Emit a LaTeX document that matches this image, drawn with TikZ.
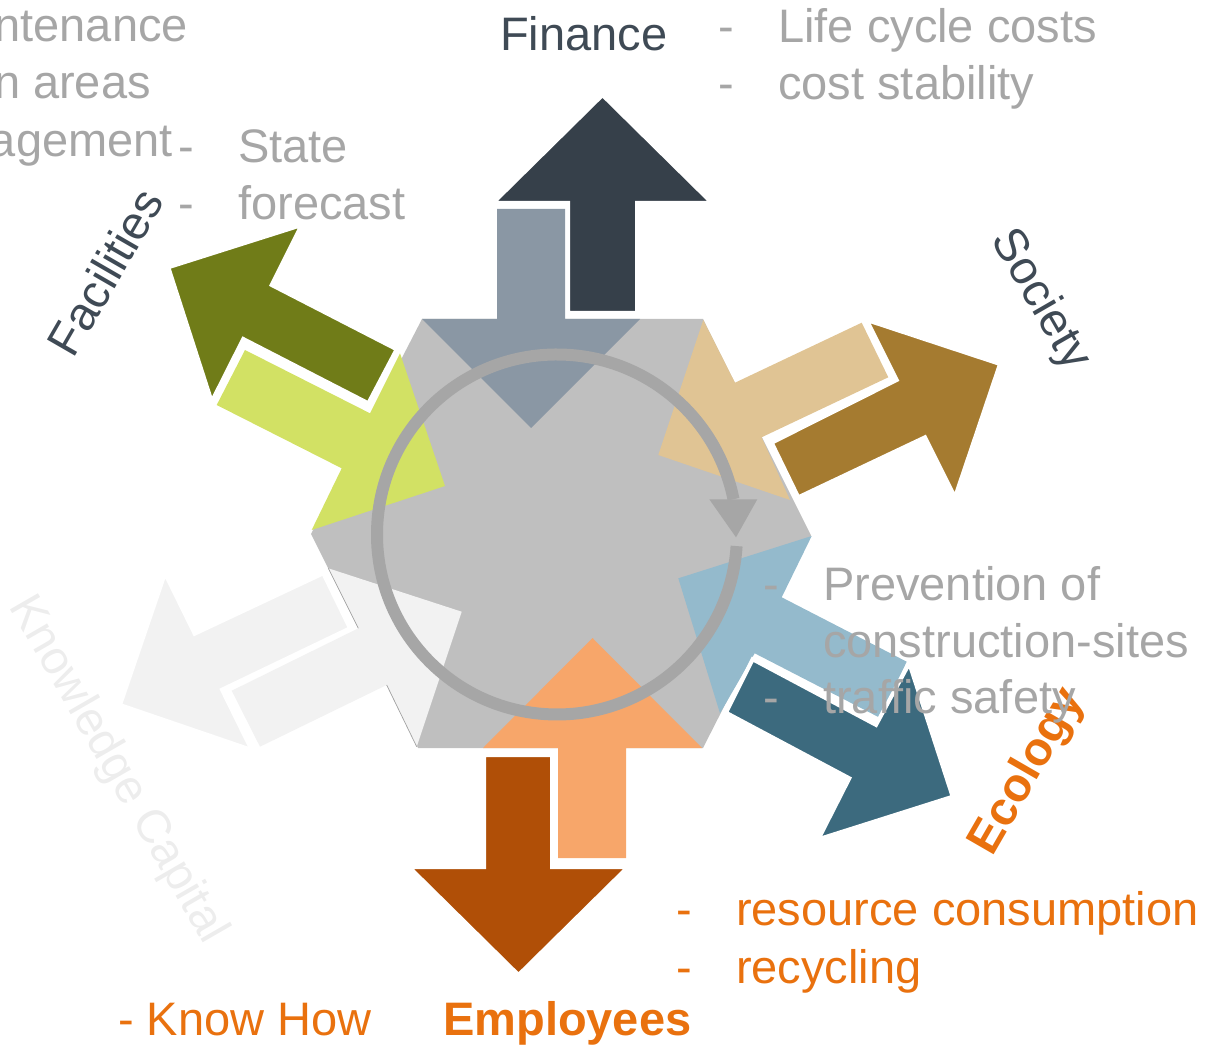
\documentclass[tikz,border=0pt]{standalone}
\usepackage{fontspec}
\setmainfont{Liberation Sans}

\definecolor{hexgray}{HTML}{BFBFBF}
\definecolor{cyclegray}{HTML}{A6A6A6}
\definecolor{findark}{HTML}{36404A}
\definecolor{finlight}{HTML}{8A97A4}
\definecolor{socdark}{HTML}{A57B30}
\definecolor{soclight}{HTML}{E0C494}
\definecolor{ecodark}{HTML}{3C6A7E}
\definecolor{ecolight}{HTML}{94BACC}
\definecolor{empdark}{HTML}{B04F07}
\definecolor{emplight}{HTML}{F7A66A}
\definecolor{knowgray}{HTML}{F2F2F2}
\definecolor{facdark}{HTML}{707C18}
\definecolor{faclight}{HTML}{D2E164}
\definecolor{labeldark}{HTML}{3F4A55}
\definecolor{listgray}{HTML}{A6A6A6}
\definecolor{accentorange}{HTML}{E9710E}
\definecolor{kncapgray}{HTML}{EDEDED}

\newcommand{\listdash}{\makebox[60pt][l]{-}}

\tikzset{
	lbl/.style={inner sep=0pt, font=\fontsize{47}{56}\selectfont},
	darklbl/.style={lbl, text=labeldark},
	graylbl/.style={lbl, text=listgray},
	orangelbl/.style={lbl, text=accentorange},
	outarrow/.style={draw=white, line width=4pt, line join=miter}
}

\begin{document}
\begin{tikzpicture}[x=1pt,y=-1pt]
	\useasboundingbox (0,0) rectangle (1211,1048);
	
	% Hexagon in the middle
	\fill[hexgray] (422,319) -- (703,319) -- (811,535.5) -- (703,748) -- (418,748) -- (311,534) -- cycle;
	
	% Inward arrows
	\fill[finlight] (497,209) -- (497,319) -- (422,319) -- (531,428) -- (640,319) -- (565,319) -- (565,209) -- cycle;
	\fill[soclight] (861.7,322.7) -- (735,382.7) -- (703.3,320) -- (658.3,455) -- (790,500) -- (761.6,437.3) -- (888.3,377.3) -- cycle;
	\fill[ecolight] (906.7,661.7) -- (781.7,597.3) -- (811.7,536) -- (678.3,578.3) -- (720,713.3) -- (754.7,653.3) -- (879.7,717.7) -- cycle;
	\fill[emplight] (558,858) -- (558,748) -- (483,748) -- (592.5,638) -- (702,748) -- (626,748) -- (626,858) -- cycle;
	\fill[knowgray] (231.7,690.7) -- (358.3,628.3) -- (328.3,568.3) -- (461.7,611.7) -- (416.7,746.7) -- (386.7,685) -- (260,746.7) -- cycle;
	\fill[faclight] (245,350) -- (370,413.3) -- (400,353.3) -- (445,486) -- (311.7,530) -- (341.7,468.3) -- (216.7,405) -- cycle;
	\draw[hexgray!85!black, line width=0.7pt] (328.3,568.3) -- (358.3,628.3) (386.7,685) -- (416.7,746.7);
	
	% Outward arrows
	\filldraw[outarrow, fill=findark] (568,313) -- (568,203) -- (493,203) -- (602.5,95) -- (712,203) -- (637,203) -- (637,313) -- cycle;
	\filldraw[outarrow, fill=socdark] (771.7,442.7) -- (896.7,380) -- (866.7,320) -- (1000,364) -- (955,497.3) -- (925,437.3) -- (798.3,497.3) -- cycle;
	\filldraw[outarrow, fill=ecodark] (752.7,659.3) -- (876,724.9) -- (909.3,663.3) -- (952.7,796.7) -- (818.3,839.3) -- (849.3,778.3) -- (726,712.7) -- cycle;
	\filldraw[outarrow, fill=empdark] (484,755) -- (484,867) -- (409,867) -- (518.5,975) -- (628,867) -- (552,867) -- (552,755) -- cycle;
	\filldraw[outarrow, fill=knowgray] (323.3,573.3) -- (194.7,633.7) -- (165,573.3) -- (120,705) -- (251.7,750) -- (222,689.7) -- (350,628.3) -- cycle;
	\filldraw[outarrow, fill=facdark] (396.7,349.3) -- (271.7,285) -- (301.7,225) -- (168.3,267.3) -- (211.7,401.7) -- (243.3,339) -- (368.3,403.3) -- cycle;
	
	% Cycle arrow
	\draw[cyclegray, line width=12pt] (736.6,546.1) arc[start angle=-3.7, end angle=-348.7, radius=180pt];
	\fill[cyclegray] (709.3,499.3) -- (757.3,499.3) -- (736,537.3) -- cycle;
	
	% Labels of the six fields
	\node[darklbl, anchor=base west] (finance) at (500,51) {Finance};
	\node[darklbl, rotate=60] (facilities) at (105,272) {Facilities};
	\node[darklbl, rotate=-60] (society) at (1040,300) {Society};
	\node[lbl, text=kncapgray, rotate=-60] (knowcap) at (117,770) {Knowledge Capital};
	\node[orangelbl, rotate=60, font=\fontsize{47}{56}\selectfont\bfseries] (ecology) at (1028,772) {Ecology};
	\node[orangelbl, anchor=base west, font=\fontsize{47}{56}\selectfont\bfseries] (employees) at (443,1035) {Employees};
	
	% Lists
	\node[graylbl, anchor=base east] (maint) at (188,42) {ntenance};
	\node[graylbl, anchor=base east] (green) at (151,99) {n areas};
	\node[graylbl, anchor=base east] (manage) at (173,157) {agement};
	\node[graylbl, anchor=base west] (state) at (178,163) {\listdash State};
	\node[graylbl, anchor=base west] (forecast) at (178,220) {\listdash forecast};
	\node[graylbl, anchor=base west] (lifecycle) at (718,43) {\listdash Life cycle costs};
	\node[graylbl, anchor=base west] (coststab) at (718,100) {\listdash cost stability};
	\node[graylbl, anchor=base west] (prevent) at (763,600) {\listdash Prevention of};
	\node[graylbl, anchor=base west] (construct) at (823,657) {construction-sites};
	\node[graylbl, anchor=base west] (traffic) at (763,713) {\listdash traffic safety};
	\node[orangelbl, anchor=base west] (resource) at (676,925) {\listdash resource consumption};
	\node[orangelbl, anchor=base west] (recycle) at (676,983) {\listdash recycling};
	\node[orangelbl, anchor=base west] (knowhow) at (118,1035) {- Know How};
\end{tikzpicture}
\end{document}
